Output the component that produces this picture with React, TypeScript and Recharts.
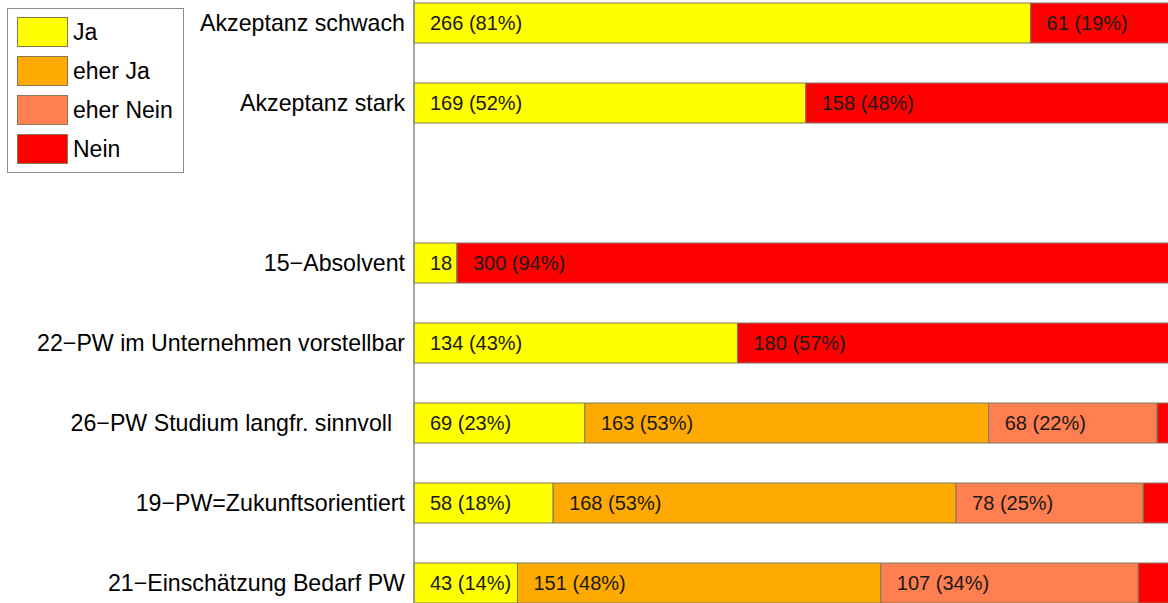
import React from "react";
import { BarChart, Bar, XAxis, YAxis, LabelList } from "recharts";

const categories = [
  "Akzeptanz schwach",
  "Akzeptanz stark",
  "",
  "15\u2212Absolvent",
  "22\u2212PW im Unternehmen vorstellbar",
  "26\u2212PW Studium langfr. sinnvoll  ",
  "19\u2212PW=Zukunftsorientiert",
  "21\u2212Einsch\u00e4tzung Bedarf PW",
];

const jaCounts = [266, 169, null, 18, 134, 69, 58, 43];
const eherJaCounts = [null, null, null, null, null, 163, 168, 151];
const eherNeinCounts = [null, null, null, null, null, 68, 78, 107];
const neinCounts = [61, 158, null, 300, 180, 6, 12, 14];

const seriesNames = ["Ja", "eher Ja", "eher Nein", "Nein"];
const seriesKeys = ["ja", "eherJa", "eherNein", "nein"];
const seriesColors = ["#FFFF00", "#FFAA00", "#FF7F50", "#FF0000"];

const FONT = "'Liberation Sans', Arial, sans-serif";

const countArrays = [jaCounts, eherJaCounts, eherNeinCounts, neinCounts];

const data = categories.map((name, i) => {
  const total = countArrays.reduce((s, arr) => s + (arr[i] ?? 0), 0);
  const row: any = { name, total };
  seriesKeys.forEach((k, j) => {
    const c = countArrays[j][i];
    row[k] = c == null || total === 0 ? null : c / total;
    row[k + "Label"] =
      c == null || total === 0 ? null : `${c}|${Math.round((c / total) * 100)}`;
  });
  return row;
});

const renderLabel = (props: any) => {
  const { x, y, width, height, value } = props;
  if (value == null || !width) return null;
  const [c, pct] = String(value).split("|");
  let txt = "";
  if (width > 95) txt = `${c} (${pct}%)`;
  else if (width > 38) txt = `${c}`;
  else return null;
  return (
    <text
      x={x + 16}
      y={y + height / 2}
      dominantBaseline="central"
      fontSize={20}
      fontFamily={FONT}
      fill="#1a1a1a"
    >
      {txt}
    </text>
  );
};

const CategoryTick = (props: any) => {
  const { x, y, payload } = props;
  return (
    <text
      x={x - 1}
      y={y}
      textAnchor="end"
      dominantBaseline="central"
      fontSize={23.2}
      fontFamily={FONT}
      fill="#000"
      style={{ whiteSpace: "pre" }}
    >
      {payload.value}
    </text>
  );
};

const LegendBox = () => (
  <div
    style={{
      position: "absolute",
      left: 7,
      top: 8,
      width: 177,
      height: 165,
      border: "1px solid #8c8c8c",
      background: "#fff",
      boxSizing: "border-box",
    }}
  >
    {seriesNames.map((n, i) => (
      <div
        key={n}
        style={{
          position: "absolute",
          left: 9,
          top: 7 + i * 39.3,
          display: "flex",
          alignItems: "center",
          height: 31,
        }}
      >
        <div
          style={{
            width: 51,
            height: 30,
            background: seriesColors[i],
            border: "1px solid #8a7a50",
            boxSizing: "border-box",
          }}
        />
        <span
          style={{
            marginLeft: 5,
            fontFamily: FONT,
            fontSize: 23,
            color: "#000",
            lineHeight: "30px",
          }}
        >
          {n}
        </span>
      </div>
    ))}
  </div>
);

export default function App() {
  return (
    <div
      style={{
        position: "absolute",
        left: 0,
        top: 0,
        width: 1168,
        height: 603,
        overflow: "hidden",
        background: "#fff",
      }}
    >
      <div style={{ position: "absolute", left: 0, top: -17 }}>
        <BarChart
          width={1180}
          height={640}
          data={data}
          layout="vertical"
          margin={{ top: 0, right: 8, bottom: 0, left: 0 }}
          barSize={40}
        >
          <XAxis type="number" domain={[0, 1]} hide />
          <YAxis
            type="category"
            dataKey="name"
            width={414}
            axisLine={{ stroke: "#8c8c8c", strokeWidth: 1.5 }}
            tickLine={false}
            tick={<CategoryTick />}
            interval={0}
          />
          {seriesKeys.map((k, j) => (
            <Bar
              key={k}
              dataKey={k}
              name={seriesNames[j]}
              stackId="a"
              fill={seriesColors[j]}
              stroke="#7a7a60"
              strokeWidth={1}
              isAnimationActive={false}
            >
              <LabelList dataKey={k + "Label"} content={renderLabel} />
            </Bar>
          ))}
        </BarChart>
      </div>
      <LegendBox />
    </div>
  );
}
